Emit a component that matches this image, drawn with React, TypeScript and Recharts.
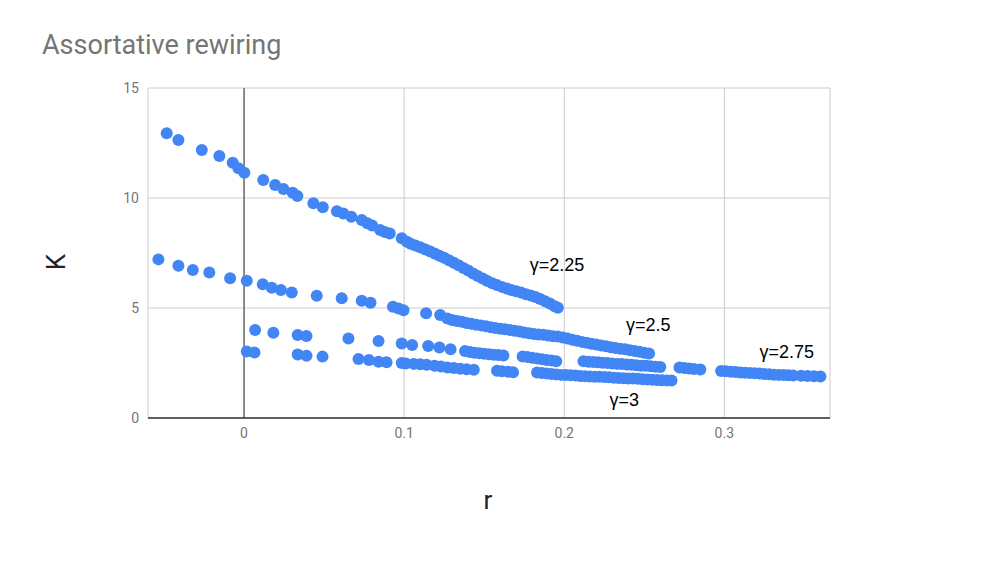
import React from 'react';
import {
  ScatterChart, Scatter, XAxis, YAxis, CartesianGrid, ReferenceLine, ReferenceDot,
} from 'recharts';

const xTicks = [0, 0.1, 0.2, 0.3];
const yTicks = [0, 5, 10, 15];

const g225R = [-0.0483, -0.041, -0.0264, -0.0154, -0.0071, -0.0035, 0.0002, 0.012, 0.0194, 0.0246, 0.0304, 0.0333, 0.0433, 0.0492, 0.058, 0.062, 0.067, 0.0735, 0.077, 0.080, 0.085, 0.088, 0.091, 0.0985, 0.1017,
  0.104, 0.107, 0.110, 0.113, 0.116, 0.119, 0.122, 0.125, 0.128, 0.131, 0.134, 0.137, 0.140, 0.143, 0.146, 0.149, 0.152, 0.155, 0.158, 0.161, 0.164, 0.167, 0.170, 0.173, 0.176, 0.179, 0.182, 0.185, 0.188, 0.191, 0.194, 0.196];
const g225K = [12.94, 12.64, 12.18, 11.91, 11.6, 11.35, 11.15, 10.82, 10.59, 10.41, 10.24, 10.09, 9.76, 9.58, 9.40, 9.30, 9.15, 9.0, 8.85, 8.75, 8.55, 8.45, 8.39, 8.17, 8.01,
  7.92, 7.84, 7.76, 7.67, 7.58, 7.48, 7.38, 7.28, 7.17, 7.06, 6.94, 6.82, 6.70, 6.57, 6.45, 6.34, 6.23, 6.13, 6.04, 5.96, 5.89, 5.82, 5.76, 5.70, 5.63, 5.57, 5.50, 5.41, 5.31, 5.20, 5.08, 5.01];

const g25R = [-0.0535, -0.041, -0.032, -0.0217, -0.0087, 0.0017, 0.0117, 0.0173, 0.023, 0.0298, 0.0454, 0.061, 0.0735, 0.079, 0.093, 0.0965, 0.0996, 0.1137, 0.1225,
  0.127, 0.130, 0.133, 0.136, 0.139, 0.142, 0.145, 0.148, 0.151, 0.154, 0.157, 0.160, 0.163, 0.166, 0.169, 0.172, 0.175, 0.178, 0.181, 0.184, 0.187, 0.190, 0.193, 0.196, 0.199, 0.202, 0.205, 0.208, 0.211, 0.214, 0.217, 0.220, 0.223, 0.226, 0.229, 0.232, 0.235, 0.238, 0.241, 0.244, 0.247, 0.250, 0.253];
const g25K = [7.21, 6.92, 6.73, 6.61, 6.35, 6.24, 6.08, 5.92, 5.82, 5.70, 5.56, 5.44, 5.33, 5.24, 5.06, 4.98, 4.90, 4.76, 4.68,
  4.52, 4.45, 4.41, 4.37, 4.32, 4.28, 4.24, 4.21, 4.17, 4.13, 4.09, 4.06, 4.03, 4.00, 3.97, 3.93, 3.89, 3.85, 3.82, 3.80, 3.78, 3.75, 3.72, 3.70, 3.66, 3.61, 3.56, 3.51, 3.46, 3.42, 3.38, 3.34, 3.30, 3.26, 3.22, 3.18, 3.15, 3.12, 3.08, 3.05, 3.01, 2.97, 2.93];

const g275R = [0.0069, 0.0183, 0.0335, 0.039, 0.0652, 0.084, 0.0985, 0.105, 0.115, 0.122, 0.129,
  0.138, 0.141, 0.144, 0.147, 0.150, 0.153, 0.156, 0.159, 0.162,
  0.174, 0.177, 0.180, 0.183, 0.186, 0.189, 0.192, 0.195,
  0.212, 0.215, 0.218, 0.221, 0.224, 0.227, 0.230, 0.233, 0.236, 0.239, 0.242, 0.245, 0.248, 0.251, 0.254, 0.257, 0.260,
  0.272, 0.275, 0.278, 0.281, 0.285,
  0.298, 0.301, 0.304, 0.307, 0.310, 0.313, 0.316, 0.319, 0.322, 0.325, 0.328, 0.331, 0.334, 0.337, 0.340, 0.343, 0.348, 0.352, 0.356, 0.360];
const g275K = [4.0, 3.88, 3.77, 3.73, 3.61, 3.50, 3.39, 3.32, 3.27, 3.20, 3.12,
  3.04, 3.00, 2.97, 2.94, 2.92, 2.90, 2.88, 2.86, 2.84,
  2.80, 2.77, 2.74, 2.70, 2.67, 2.64, 2.61, 2.58,
  2.58, 2.56, 2.55, 2.53, 2.51, 2.50, 2.48, 2.46, 2.45, 2.43, 2.42, 2.40, 2.38, 2.37, 2.35, 2.33, 2.32,
  2.30, 2.27, 2.25, 2.23, 2.20,
  2.14, 2.12, 2.10, 2.09, 2.07, 2.06, 2.04, 2.03, 2.02, 2.00, 1.99, 1.97, 1.96, 1.95, 1.94, 1.93, 1.92, 1.91, 1.90, 1.89];

const g3R = [0.0017, 0.0065, 0.0335, 0.039, 0.049, 0.0715, 0.078, 0.084, 0.089, 0.0985, 0.101, 0.106, 0.110, 0.114, 0.119, 0.123, 0.127, 0.131, 0.135, 0.139, 0.1435,
  0.158, 0.161, 0.165, 0.168,
  0.183, 0.186, 0.189, 0.192, 0.195, 0.198, 0.201, 0.204, 0.207, 0.210, 0.213, 0.216, 0.219, 0.222, 0.225, 0.228, 0.231, 0.234, 0.237, 0.240, 0.243, 0.246, 0.249, 0.252, 0.255, 0.258, 0.261, 0.264, 0.267];
const g3K = [3.02, 2.98, 2.89, 2.83, 2.79, 2.68, 2.64, 2.56, 2.53, 2.50, 2.48, 2.46, 2.44, 2.42, 2.38, 2.34, 2.30, 2.27, 2.24, 2.22, 2.19,
  2.15, 2.13, 2.10, 2.08,
  2.07, 2.04, 2.02, 2.00, 1.98, 1.96, 1.95, 1.94, 1.93, 1.91, 1.90, 1.89, 1.88, 1.87, 1.86, 1.85, 1.83, 1.82, 1.81, 1.80, 1.79, 1.78, 1.76, 1.75, 1.74, 1.73, 1.72, 1.71, 1.70];

const seriesNames = ['γ=2.25', 'γ=2.5', 'γ=2.75', 'γ=3'];
const labelR = [0.1955, 0.2525, 0.339, 0.2375];
const labelK = [6.95, 4.23, 3.0, 0.82];

const build = (rs: number[], ks: number[]) => rs.map((r, i) => ({ r, k: ks[i] }));
const allSeries = [build(g225R, g225K), build(g25R, g25K), build(g275R, g275K), build(g3R, g3K)];

const BLUE = '#4285F4';
const dot = (props: any) => <circle cx={props.cx} cy={props.cy} r={6} fill={BLUE} />;

export default function App() {
  return (
    <div style={{ position: 'absolute', left: 0, top: 0, width: 981, height: 572, background: '#fff' }}>
      <div style={{ position: 'absolute', left: 42, top: 29, fontFamily: 'Roboto', fontSize: 27, lineHeight: '32px', color: '#757575', whiteSpace: 'nowrap' }}>
        Assortative rewiring
      </div>
      <div style={{ position: 'absolute', left: 42, top: 248, width: 28, height: 28, lineHeight: '28px', textAlign: 'center', fontFamily: 'Roboto', fontSize: 26, color: '#222', transform: 'rotate(-90deg)' }}>
        K
      </div>
      <div style={{ position: 'absolute', left: 474, top: 485, width: 28, height: 30, lineHeight: '30px', textAlign: 'center', fontFamily: 'Roboto', fontSize: 26, color: '#222' }}>
        r
      </div>
      <ScatterChart width={981} height={572} margin={{ top: 88, right: 151, bottom: 124, left: 88 }}>
        <CartesianGrid stroke="#cccccc" strokeWidth={1} />
        <XAxis
          type="number"
          dataKey="r"
          domain={[-0.06, 0.366]}
          ticks={xTicks}
          allowDataOverflow
          height={30}
          tickLine={false}
          tickSize={0}
          tickMargin={10}
          axisLine={{ stroke: '#333', strokeWidth: 1.5 }}
          tick={{ fill: '#757575', fontSize: 14, fontFamily: 'Roboto' }}
          tickFormatter={(v: number) => String(v)}
        />
        <YAxis
          type="number"
          dataKey="k"
          domain={[0, 15]}
          ticks={yTicks}
          width={60}
          tickLine={false}
          tickSize={0}
          tickMargin={9}
          axisLine={false}
          tick={{ fill: '#757575', fontSize: 14, fontFamily: 'Roboto' }}
        />
        <ReferenceLine x={0} stroke="#333" strokeWidth={1} />
        {allSeries.map((d, i) => (
          <Scatter key={i} name={seriesNames[i]} data={d} shape={dot} isAnimationActive={false} />
        ))}
        {seriesNames.map((n, i) => (
          <ReferenceDot
            key={n}
            x={labelR[i]}
            y={labelK[i]}
            r={0}
            fill="none"
            stroke="none"
            ifOverflow="visible"
            label={{ value: n, position: 'center', fill: '#000', fontSize: 18, fontFamily: 'Liberation Sans' }}
          />
        ))}
      </ScatterChart>
    </div>
  );
}
